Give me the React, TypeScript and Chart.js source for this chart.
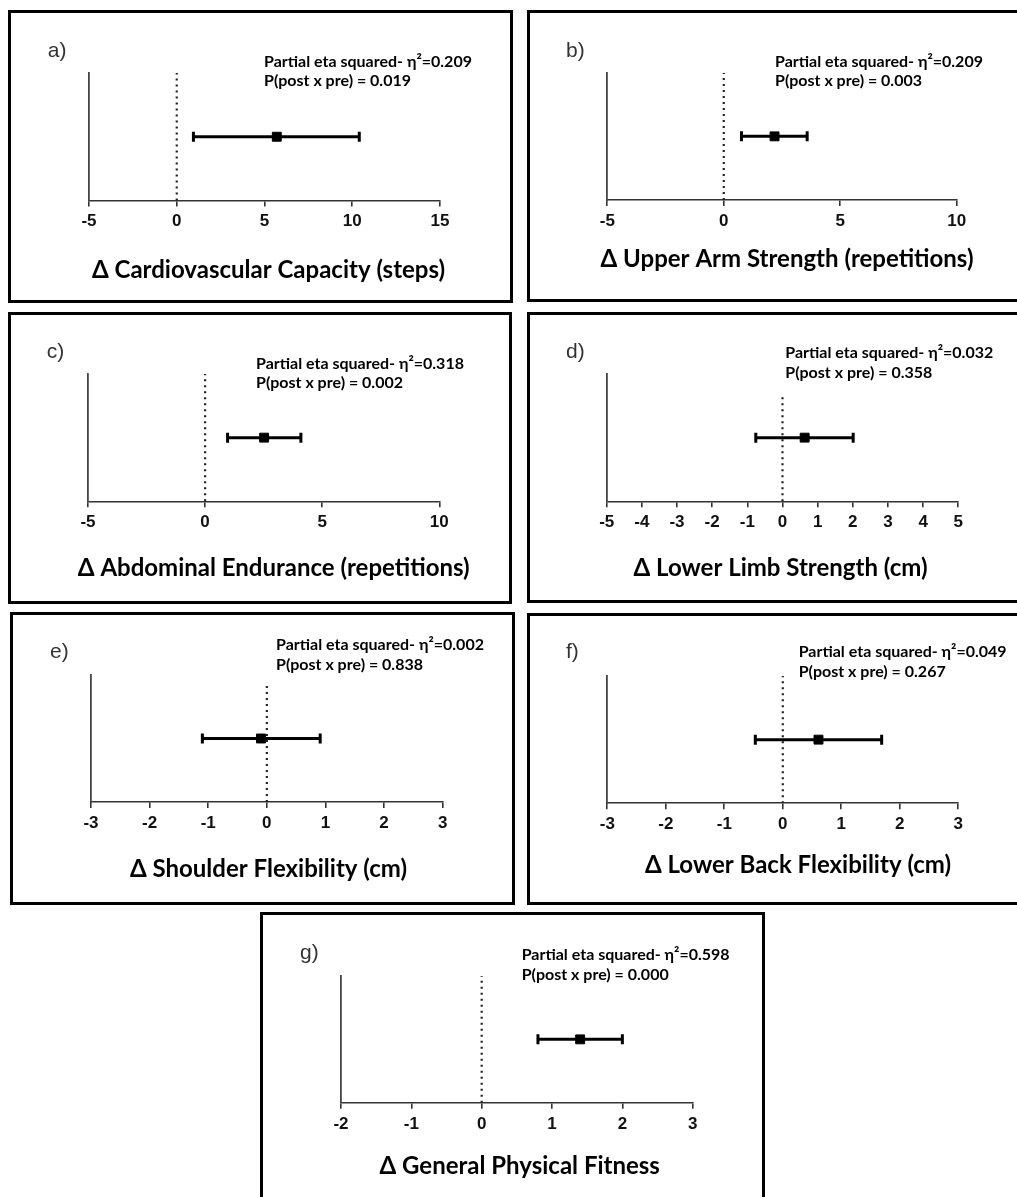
import React, { useEffect, useRef } from "react";
import { Chart, registerables } from "chart.js";

Chart.register(...registerables);

// ---------------- data ----------------
const panelLabels = ["a)", "b)", "c)", "d)", "e)", "f)", "g)"];
const axisTitles = [
  "Δ Cardiovascular Capacity (steps)",
  "Δ Upper Arm Strength (repetitions)",
  "Δ Abdominal Endurance (repetitions)",
  "Δ Lower Limb Strength (cm)",
  "Δ Shoulder Flexibility (cm)",
  "Δ Lower Back Flexibility (cm)",
  "Δ General Physical Fitness",
];
const etaSquared = ["0.209", "0.209", "0.318", "0.032", "0.002", "0.049", "0.598"];
const pValues = ["0.019", "0.003", "0.002", "0.358", "0.838", "0.267", "0.000"];
const meanDiff = [5.7, 2.18, 2.52, 0.63, -0.1, 0.61, 1.4];
const ciLower = [0.95, 0.76, 0.96, -0.76, -1.1, -0.47, 0.8];
const ciUpper = [10.4, 3.58, 4.09, 2.01, 0.91, 1.69, 2.0];
const axisMin = [-5, -5, -5, -5, -3, -3, -2];
const axisMax = [15, 10, 10, 5, 3, 3, 3];
const tickStep = [5, 5, 5, 1, 1, 1, 1];
const zeroLineTop = [1, 1, 1, 0.835, 0.935, 1, 1];

// ---------------- layout (page pixels) ----------------
type PanelLayout = {
  box: number[]; // left, top, right, bottom (outer)
  plot: number[]; // y-axis x, axis top, x-axis right, x-axis y
  label: number[]; // x, baseline
  note: number[]; // x, baseline1, baseline2
  title: number[]; // center x, baseline
};
const layout: PanelLayout[] = [
  { box: [8, 10, 513, 303], plot: [89, 73, 440, 200.5], label: [47.7, 56.5], note: [264, 67, 86], title: [268.5, 277.5] },
  { box: [527, 10, 1025, 302], plot: [607.3, 72.7, 956.7, 200], label: [566, 56.5], note: [775, 67, 86], title: [787, 266.7] },
  { box: [8, 312, 512, 604], plot: [88, 374, 439.3, 501.3], label: [46.7, 357.5], note: [256, 369, 388.3], title: [273.7, 576] },
  { box: [527, 312, 1025, 603], plot: [606.7, 374, 958.3, 501.3], label: [566, 357.7], note: [785.3, 358.3, 378.3], title: [780.5, 576] },
  { box: [10, 612, 515, 905], plot: [91, 675, 442.7, 802], label: [50, 657.7], note: [276, 650, 670], title: [268.5, 876.7] },
  { box: [527, 613, 1025, 905], plot: [607.3, 676, 958.3, 803.3], label: [566, 657.7], note: [798.7, 656.7, 676.7], title: [798, 872.7] },
  { box: [260, 912, 765, 1210], plot: [341, 976, 692.7, 1102.7], label: [300, 959.3], note: [521.7, 960, 980], title: [519.7, 1174] },
];

const BORDER = 3;
const X_SCALE_H = 40;

function Panel({ i }: { i: number }) {
  const ref = useRef<HTMLCanvasElement | null>(null);
  const L = layout[i];
  const [bl, bt, br, bb] = L.box;
  const ox = bl + BORDER;
  const oy = bt + BORDER;
  const w = br - bl - 2 * BORDER;
  const h = bb - bt - 2 * BORDER;

  useEffect(() => {
    if (!ref.current) return;
    const [px0, py0, px1, py1] = L.plot;
    const left = px0 - ox;
    const top = py0 - oy;
    const right = px1 - ox;
    const bottom = py1 - oy;

    const textPlugin = {
      id: "panelText",
      afterDraw(chart: any) {
        const ctx = chart.ctx as CanvasRenderingContext2D;
        ctx.save();
        ctx.textBaseline = "alphabetic";
        ctx.textAlign = "left";
        ctx.fillStyle = "#333";
        ctx.font = '21px "Liberation Sans", Arial, sans-serif';
        ctx.fillText(panelLabels[i], L.label[0] - ox, L.label[1] - oy);
        ctx.fillStyle = "#000";
        ctx.font = 'bold 16px Lato, "Open Sans", sans-serif';
        ctx.fillText(`Partial eta squared- η²=${etaSquared[i]}`, L.note[0] - ox, L.note[1] - oy);
        ctx.fillText(`P(post x pre) = ${pValues[i]}`, L.note[0] - ox, L.note[2] - oy);
        ctx.textAlign = "center";
        ctx.font = 'bold 24px Lato, "Open Sans", sans-serif';
        ctx.fillText(axisTitles[i], L.title[0] - ox, L.title[1] - oy);
        ctx.restore();
      },
    };

    const chart = new Chart(ref.current, {
      type: "scatter",
      data: {
        datasets: [
          {
            data: [
              { x: 0, y: 0 },
              { x: 0, y: zeroLineTop[i] },
            ],
            showLine: true,
            borderColor: "#222",
            borderWidth: 2.2,
            borderDash: [2, 4],
            pointRadius: 0,
          },
          {
            data: [
              { x: ciLower[i], y: 0.5 },
              { x: ciUpper[i], y: 0.5 },
            ],
            showLine: true,
            borderColor: "#000",
            borderWidth: 3,
            pointRadius: 0,
          },
          {
            data: [
              { x: ciLower[i], y: 0.5 },
              { x: ciUpper[i], y: 0.5 },
            ],
            pointStyle: "line",
            rotation: 90,
            pointRadius: 5,
            borderColor: "#000",
            borderWidth: 3,
          },
          {
            data: [{ x: meanDiff[i], y: 0.5 }],
            pointStyle: "rect",
            pointRadius: 6.3,
            backgroundColor: "#000",
            borderColor: "#000",
            borderWidth: 1,
          },
        ],
      } as any,
      options: {
        animation: false,
        responsive: false,
        events: [],
        layout: {
          padding: { left, top, right: w - right, bottom: h - bottom - X_SCALE_H },
        },
        plugins: { legend: { display: false }, tooltip: { enabled: false }, title: { display: false } },
        scales: {
          x: {
            type: "linear",
            min: axisMin[i],
            max: axisMax[i],
            afterFit: (s: any) => {
              s.height = X_SCALE_H;
            },
            ticks: {
              stepSize: tickStep[i],
              autoSkip: false,
              maxRotation: 0,
              padding: 5,
              color: "#111",
              font: { family: '"Liberation Sans", Arial, sans-serif', weight: "bold", size: 17 },
            },
            grid: { display: true, drawOnChartArea: false, drawTicks: true, tickLength: 6, color: "#333", lineWidth: 1.6 },
            border: { display: true, color: "#333", width: 1.6 },
          },
          y: {
            type: "linear",
            min: 0,
            max: 1,
            afterFit: (s: any) => {
              s.width = 0;
            },
            ticks: { display: false },
            grid: { display: false, drawTicks: false },
            border: { display: true, color: "#444", width: 1.8 },
          },
        },
      } as any,
      plugins: [textPlugin],
    });
    return () => chart.destroy();
  }, []);

  return (
    <div
      style={{
        position: "absolute",
        left: bl,
        top: bt,
        width: br - bl,
        height: bb - bt,
        border: `${BORDER}px solid #000`,
        boxSizing: "border-box",
        background: "#fff",
      }}
    >
      <canvas
        ref={ref}
        width={w}
        height={h}
        style={{ position: "absolute", left: 0, top: 0, width: w, height: h, display: "block" }}
      />
    </div>
  );
}

export default function App() {
  return (
    <div
      style={{
        position: "absolute",
        left: 0,
        top: 0,
        width: 1017,
        height: 1197,
        overflow: "hidden",
        background: "#fff",
      }}
    >
      {panelLabels.map((_, i) => (
        <Panel key={i} i={i} />
      ))}
    </div>
  );
}
